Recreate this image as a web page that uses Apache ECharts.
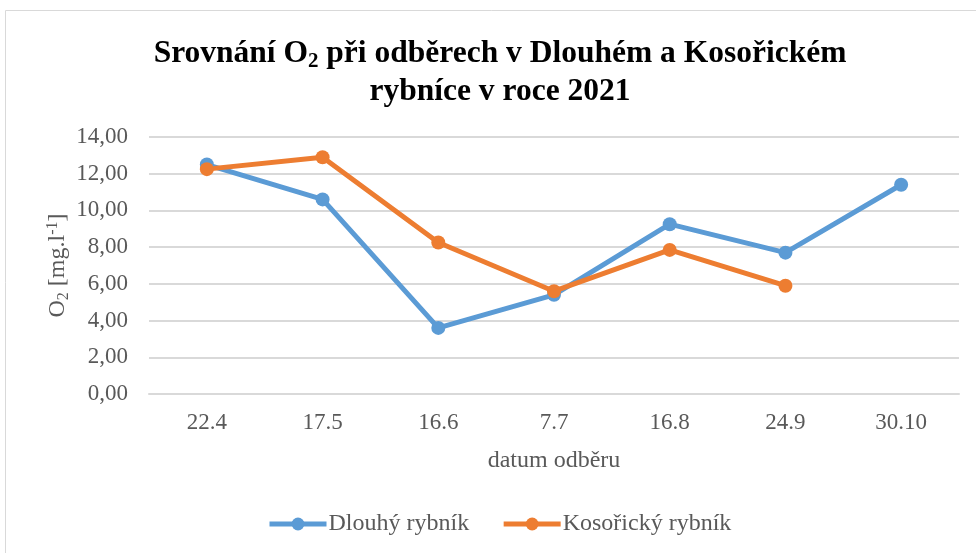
<!DOCTYPE html>
<html>
<head>
<meta charset="utf-8">
<script src="https://cdn.jsdelivr.net/npm/echarts@6/dist/echarts.min.js"></script>
<style>
  html, body { margin: 0; padding: 0; background: #fff; }
  #chart { width: 976px; height: 553px; }
</style>
</head>
<body>
<div id="chart"></div>
<script>
// data
const categories = ['22.4', '17.5', '16.6', '7.7', '16.8', '24.9', '30.10'];
const dlouhy = [12.5, 10.6, 3.6, 5.4, 9.25, 7.7, 11.4];
const kosoricky = [12.25, 12.9, 8.25, 5.6, 7.85, 5.9, null];
const seriesNames = ['Dlouhý rybník', 'Kosořický rybník'];

const serif = 'Liberation Serif, Times New Roman, serif';
const grey = '#595959';

const myChart = echarts.init(document.getElementById('chart'));

const option = {
  animation: false,
  graphic: [
    {
      type: 'rect',
      shape: { x: 5.5, y: 10.5, width: 1000, height: 600 },
      style: { fill: 'none', stroke: '#d9d9d9', lineWidth: 1 },
      silent: true
    }
  ],
  title: {
    text: '{t|Srovnání O}{s|2}{t| při odběrech v Dlouhém a Kosořickém}\n{t|rybníce v roce 2021}',
    left: 495,
    top: 30,
    textAlign: 'center',
    textStyle: {
      rich: {
        t: { fontFamily: serif, fontWeight: 'bold', fontSize: 31.5, color: '#000', lineHeight: 38 },
        s: { fontFamily: serif, fontWeight: 'bold', fontSize: 21, color: '#000', lineHeight: 38, padding: [16, 0, 0, 0] }
      }
    }
  },
  legend: {
    data: seriesNames,
    bottom: 12,
    left: 262,
    itemWidth: 57,
    itemHeight: 16,
    itemGap: 32,
    lineStyle: { width: 5 },
    textStyle: { fontFamily: serif, fontSize: 24, color: grey, padding: [0, 0, 0, -3] }
  },
  grid: { left: 149, right: 17, top: 137, bottom: 159 },
  xAxis: {
    type: 'category',
    data: categories,
    boundaryGap: true,
    name: 'datum odběru',
    nameLocation: 'middle',
    nameGap: 55,
    nameMoveOverlap: false,
    nameTextStyle: { fontFamily: serif, fontSize: 24, color: grey },
    axisLine: { lineStyle: { color: '#d9d9d9', width: 2 } },
    axisTick: { show: false },
    axisLabel: { fontFamily: serif, fontSize: 23, color: grey, margin: 17 }
  },
  yAxis: {
    type: 'value',
    min: 0,
    max: 14,
    interval: 2,
    name: '{n|O}{s|2}{n| [mg.l}{p|-1}{n|]}',
    nameLocation: 'middle',
    nameGap: 77,
    nameRotate: 90,
    nameMoveOverlap: false,
    nameTextStyle: {
      rich: {
        n: { fontFamily: serif, fontSize: 24, color: grey },
        s: { fontFamily: serif, fontSize: 16, color: grey, padding: [12, 0, 0, 0] },
        p: { fontFamily: serif, fontSize: 16, color: grey, padding: [0, 0, 10, 0] }
      }
    },
    axisLine: { show: false },
    axisTick: { show: false },
    splitLine: { lineStyle: { color: '#d9d9d9', width: 2 } },
    axisLabel: {
      fontFamily: serif,
      fontSize: 23,
      color: grey,
      margin: 21,
      formatter: (v) => v.toFixed(2).replace('.', ',')
    }
  },
  series: [
    {
      name: seriesNames[0],
      type: 'line',
      data: dlouhy,
      symbol: 'circle',
      symbolSize: 14,
      color: '#5b9bd5',
      lineStyle: { width: 5 }
    },
    {
      name: seriesNames[1],
      type: 'line',
      data: kosoricky,
      symbol: 'circle',
      symbolSize: 14,
      color: '#ed7d31',
      lineStyle: { width: 5 }
    }
  ]
};

myChart.setOption(option);

window.addEventListener('resize', () => {
  myChart.resize();
});
</script>
</body>
</html>
